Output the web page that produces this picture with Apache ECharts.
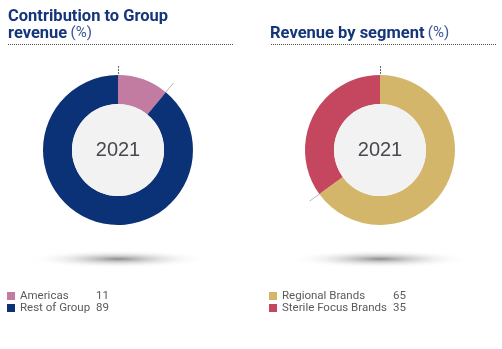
<!DOCTYPE html>
<html><head><meta charset="utf-8">
<script src="https://cdn.jsdelivr.net/npm/echarts@6/dist/echarts.min.js"></script>
<style>html,body{margin:0;padding:0;background:#fff}#c{width:502px;height:349px}</style>
</head><body><div id="c"></div>
<script>
const leftNames = ['Americas', 'Rest of Group'];
const leftValues = [11, 89];
const leftColors = ['#c27ca2', '#0b3277'];
const rightNames = ['Regional Brands', 'Sterile Focus Brands'];
const rightValues = [65, 35];
const rightColors = ['#d4b66a', '#c4475f'];
const centerLabel = '2021';

const chart = echarts.init(document.getElementById('c'));
const LC = [118, 150], RC = [380, 150], R = 75, RI = 46;

function tickLine(c, frac) {
  const a = frac * 2 * Math.PI;
  const s = Math.sin(a), co = Math.cos(a);
  return {type:'line', silent:true, shape:{x1:c[0]+s*(R-2), y1:c[1]-co*(R-2), x2:c[0]+s*(R+12), y2:c[1]-co*(R+12)},
    style:{stroke:'#b8b8b8', lineWidth:1}};
}
function sum(a){return a.reduce((x,y)=>x+y,0);}

function mkData(names, vals, cols){return names.map((n,i)=>({name:n, value:vals[i], itemStyle:{color:cols[i]}}));}
const fs = {fontSize:11.5, color:'#5a5a5a', fontFamily:'Roboto'};
const richL = {n:Object.assign({width:76}, fs), v:fs};
const richR = {n:Object.assign({width:111}, fs), v:fs};

function shadow(cx){
  return {type:'circle', silent:true, z:-1, x:cx, y:259, scaleY:0.1, shape:{cx:0, cy:0, r:92},
    style:{fill:new echarts.graphic.RadialGradient(0.5,0.5,0.5,[{offset:0,color:'rgba(90,90,90,0.7)'},{offset:0.3,color:'rgba(140,140,140,0.45)'},{offset:0.7,color:'rgba(200,200,200,0.15)'},{offset:1,color:'rgba(255,255,255,0)'}])}};
}
const bold = 'bold 16.5px Roboto', reg = '15px Roboto';

chart.setOption({
  animation:false,
  legend:[
    {orient:'vertical', left:4, top:287, padding:[3,3,3,3], itemWidth:8, itemHeight:8, itemGap:0, icon:'rect', data:leftNames, selectedMode:false,
     formatter:n=>'{n|'+n+'}{v|'+leftValues[leftNames.indexOf(n)]+'}', textStyle:{rich:richL}},
    {orient:'vertical', left:266, top:287, padding:[3,3,3,3], itemWidth:8, itemHeight:8, itemGap:0, icon:'rect', data:rightNames, selectedMode:false,
     formatter:n=>'{n|'+n+'}{v|'+rightValues[rightNames.indexOf(n)]+'}', textStyle:{rich:richR}}
  ],
  graphic:[
    {type:'text', left:8, top:8, style:{text:'Contribution to Group', font:bold, fill:'#15357a'}},
    {type:'text', left:8, top:25, style:{rich:{b:{font:bold, fill:'#15357a'}, r:{font:reg, fill:'#3a5595'}}, text:'{b|revenue} {r|(%)}'}},
    {type:'text', left:270, top:25, style:{rich:{b:{font:bold, fill:'#15357a'}, r:{font:reg, fill:'#3a5595'}}, text:'{b|Revenue by segment} {r|(%)}'}},
    {type:'line', silent:true, shape:{x1:8,y1:44.5,x2:233,y2:44.5}, style:{stroke:'#555', lineWidth:1, lineDash:[1,1]}},
    {type:'line', silent:true, shape:{x1:271,y1:44.5,x2:497,y2:44.5}, style:{stroke:'#555', lineWidth:1, lineDash:[1,1]}},
    {type:'line', silent:true, shape:{x1:LC[0]+0.5,y1:66,x2:LC[0]+0.5,y2:76}, style:{stroke:'#666', lineWidth:1, lineDash:[2,1]}},
    {type:'line', silent:true, shape:{x1:RC[0]+0.5,y1:66,x2:RC[0]+0.5,y2:76}, style:{stroke:'#666', lineWidth:1, lineDash:[2,1]}},
    tickLine(LC, leftValues[0]/sum(leftValues)),
    tickLine(RC, rightValues[0]/sum(rightValues)),
    shadow(LC[0]), shadow(RC[0]),
    {type:'circle', silent:true, z:10, shape:{cx:LC[0], cy:LC[1], r:RI}, style:{fill:'#f3f2f2'}},
    {type:'circle', silent:true, z:10, shape:{cx:RC[0], cy:RC[1], r:RI}, style:{fill:'#f3f2f2'}},
    {type:'text', z:11, x:LC[0], y:LC[1], style:{text:centerLabel, font:'20px "Liberation Sans"', fill:'#484850', align:'center', verticalAlign:'middle'}},
    {type:'text', z:11, x:RC[0], y:RC[1], style:{text:centerLabel, font:'20px "Liberation Sans"', fill:'#484850', align:'center', verticalAlign:'middle'}}
  ],
  series:[
    {type:'pie', center:LC, radius:[RI, R], startAngle:90, clockwise:true, label:{show:false}, labelLine:{show:false}, silent:true,
     data:mkData(leftNames,leftValues,leftColors)},
    {type:'pie', center:RC, radius:[RI, R], startAngle:90, clockwise:true, label:{show:false}, labelLine:{show:false}, silent:true,
     data:mkData(rightNames,rightValues,rightColors)}
  ]
});
</script></body></html>
